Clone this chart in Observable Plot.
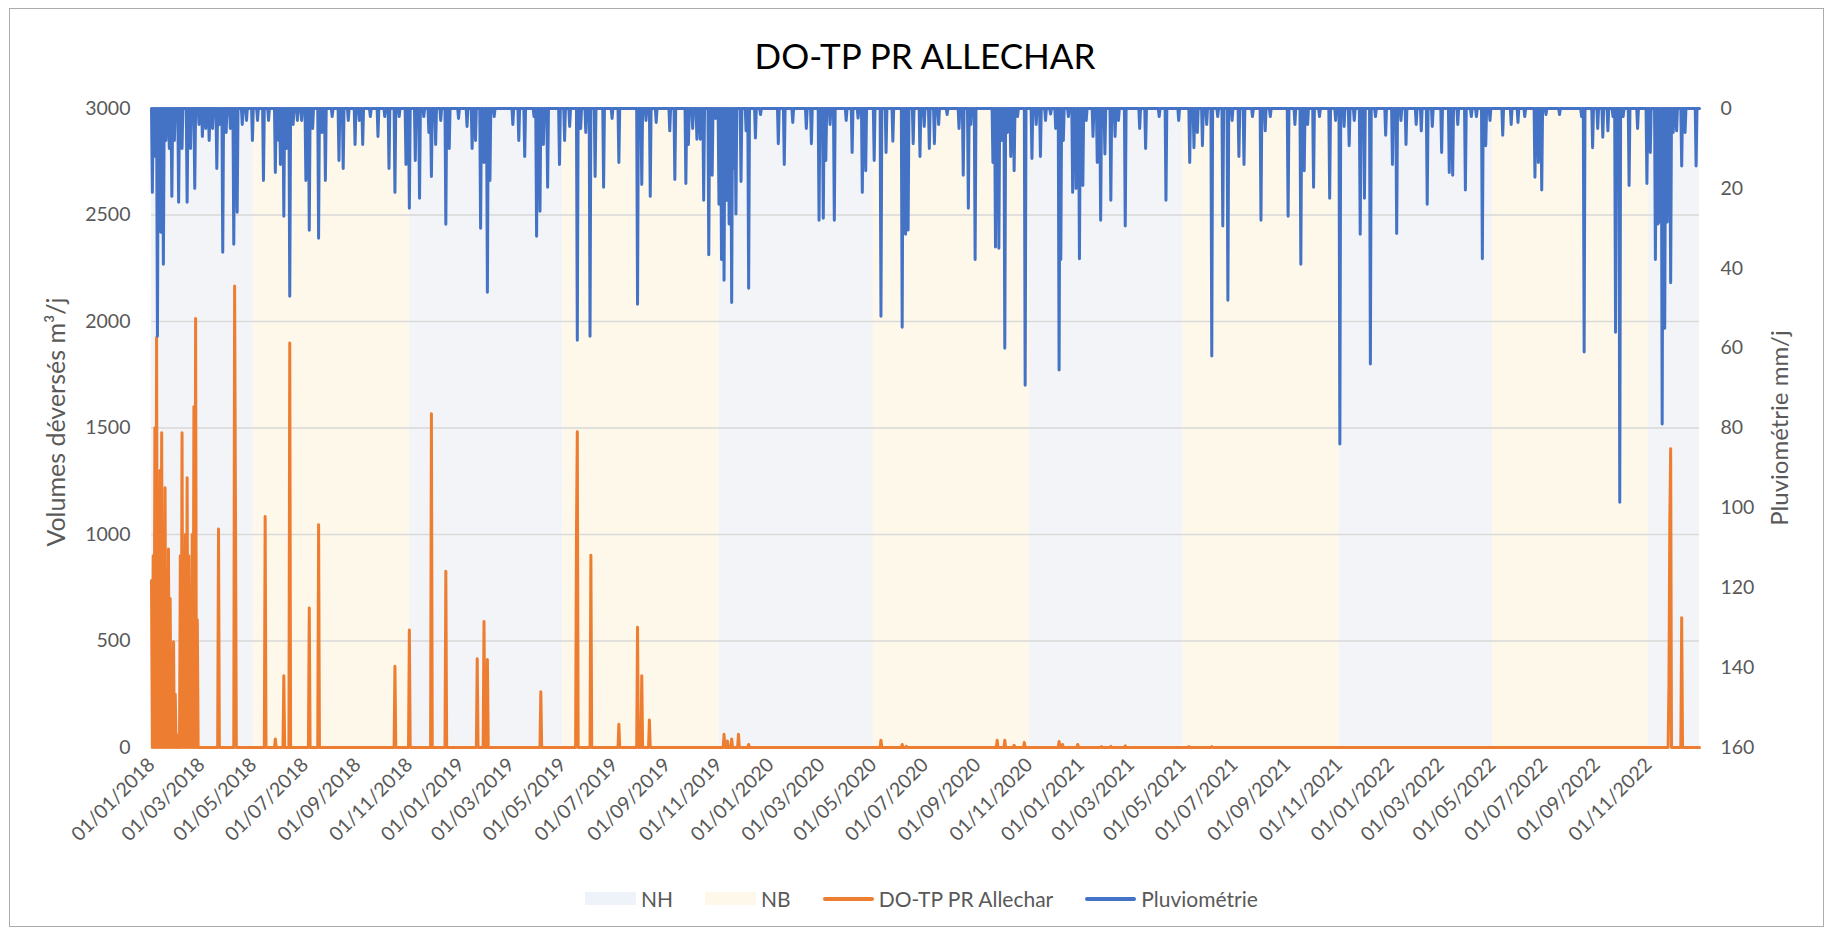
<!DOCTYPE html>
<html>
<head>
<meta charset="utf-8">
<script src="https://cdn.jsdelivr.net/npm/d3@7"></script>
<script src="https://cdn.jsdelivr.net/npm/@observablehq/plot@0.6"></script>
<style>
  html, body { margin: 0; padding: 0; background: #fff; }
  #chart { position: relative; width: 1827px; height: 930px; overflow: hidden; font-family: Lato, "Open Sans", sans-serif; }
  #frame { position: absolute; left: 9px; top: 8px; width: 1815px; height: 919px; border: 1.5px solid #ABABAB; box-sizing: border-box; }
  #title { position: absolute; left: 151px; width: 1548px; top: 38px; text-align: center; font-size: 35px; line-height: 35px; color: #000; white-space: nowrap; }
  #plot { position: absolute; left: 0; top: 0; }
  .ytitle { position: absolute; font-size: 24px; line-height: 24px; color: #595959; white-space: nowrap; transform: translate(-50%, -50%) rotate(-90deg); }
  #legend { position: absolute; left: 585px; top: 886px; height: 25px; display: flex; align-items: center; font-size: 21px; color: #595959; white-space: nowrap; }
  .item { display: flex; align-items: center; margin-right: 32px; }
  .sw { width: 51px; height: 13px; margin-right: 5px; }
  .ln { width: 51px; height: 4px; border-radius: 2px; margin-right: 5px; }
</style>
</head>
<body>
<div id="chart">
  <div id="frame"></div>
  <div id="plot"></div>
  <div id="title">DO-TP PR ALLECHAR</div>
  <div class="ytitle" id="yl" style="left:55px; top:422px; font-size:25px;">Volumes déversés m³/j</div>
  <div class="ytitle" id="yr" style="left:1779px; top:428px;">Pluviométrie mm/j</div>
  <div id="legend"></div>
</div>
<script>
// ---------- DATA ----------
const xTickLabels = ["01/01/2018","01/03/2018","01/05/2018","01/07/2018","01/09/2018","01/11/2018",
  "01/01/2019","01/03/2019","01/05/2019","01/07/2019","01/09/2019","01/11/2019",
  "01/01/2020","01/03/2020","01/05/2020","01/07/2020","01/09/2020","01/11/2020",
  "01/01/2021","01/03/2021","01/05/2021","01/07/2021","01/09/2021","01/11/2021",
  "01/01/2022","01/03/2022","01/05/2022","01/07/2022","01/09/2022","01/11/2022"];
const leftTicks = [0, 500, 1000, 1500, 2000, 2500, 3000];
const rightTicks = [0, 20, 40, 60, 80, 100, 120, 140, 160];

// Seasons (NH = nappe haute, NB = nappe basse)
const bandStart = ["2018-01-01","2018-05-01","2018-11-01","2019-05-01","2019-11-01","2020-05-01","2020-11-01","2021-05-01","2021-11-01","2022-05-01","2022-11-01"];
const bandEnd   = ["2018-05-01","2018-11-01","2019-05-01","2019-11-01","2020-05-01","2020-11-01","2021-05-01","2021-11-01","2022-05-01","2022-11-01","2022-12-31"];
const bandType  = ["NH","NB","NH","NB","NH","NB","NH","NB","NH","NB","NH"];

// Daily rainfall (mm/j) - days not listed are 0
const rainDates = [
"2018-01-02","2018-01-04","2018-01-06","2018-01-08","2018-01-10","2018-01-12","2018-01-15","2018-01-18","2018-01-22","2018-01-25","2018-01-28",
"2018-02-02","2018-02-06","2018-02-12","2018-02-16","2018-02-21","2018-02-26","2018-03-02","2018-03-06","2018-03-10","2018-03-14","2018-03-19",
"2018-03-22","2018-03-26","2018-03-30","2018-04-04","2018-04-08","2018-04-12","2018-04-18","2018-04-23","2018-04-30","2018-05-06","2018-05-13",
"2018-05-19","2018-05-27","2018-05-31","2018-06-02","2018-06-06","2018-06-09","2018-06-13","2018-06-17","2018-06-22","2018-06-27","2018-07-02",
"2018-07-06","2018-07-10","2018-07-17","2018-07-21","2018-07-25","2018-08-02","2018-08-10","2018-08-15","2018-08-21","2018-08-29","2018-09-03",
"2018-09-07","2018-09-16","2018-09-25","2018-10-03","2018-10-08","2018-10-15","2018-10-20","2018-10-28","2018-11-01","2018-11-08","2018-11-13",
"2018-11-18","2018-11-24","2018-11-27","2018-12-02","2018-12-08","2018-12-14","2018-12-18","2018-12-29",
"2019-01-08","2019-01-14","2019-01-18","2019-01-24","2019-01-28","2019-02-01","2019-02-04","2019-02-09","2019-03-03","2019-03-10","2019-03-17",
"2019-03-28","2019-03-31","2019-04-04","2019-04-08","2019-04-13","2019-04-27","2019-05-03","2019-05-09","2019-05-18","2019-05-22","2019-05-28",
"2019-06-02","2019-06-08","2019-06-18","2019-06-28","2019-07-06","2019-07-28","2019-08-02","2019-08-07","2019-08-12","2019-08-19","2019-09-04",
"2019-09-10","2019-09-23","2019-09-26","2019-10-01","2019-10-06","2019-10-10","2019-10-14","2019-10-20","2019-10-24","2019-10-28","2019-11-01",
"2019-11-04","2019-11-07","2019-11-10","2019-11-13","2019-11-16","2019-11-18","2019-11-21","2019-11-27","2019-12-03","2019-12-06","2019-12-14",
"2019-12-20",
"2020-01-10","2020-01-17","2020-01-27","2020-02-12","2020-02-18","2020-02-27","2020-03-03","2020-03-06","2020-03-11","2020-03-16","2020-03-30",
"2020-04-06","2020-04-13","2020-04-18","2020-04-22","2020-05-02","2020-05-10","2020-05-16","2020-05-24","2020-06-04","2020-06-08","2020-06-11",
"2020-06-17","2020-06-25","2020-06-30","2020-07-06","2020-07-12","2020-07-17","2020-07-27","2020-08-10","2020-08-15","2020-08-21","2020-08-24",
"2020-08-29","2020-09-19","2020-09-22","2020-09-26","2020-09-29","2020-10-03","2020-10-06","2020-10-10","2020-10-14","2020-10-18","2020-10-27",
"2020-11-04","2020-11-09","2020-11-14","2020-11-20","2020-11-26","2020-12-02","2020-12-06","2020-12-08","2020-12-11","2020-12-17","2020-12-22",
"2020-12-26","2020-12-30",
"2021-01-03","2021-01-07","2021-01-15","2021-01-20","2021-01-24","2021-01-29","2021-02-05","2021-02-10","2021-02-14","2021-02-22","2021-03-11",
"2021-03-18","2021-04-03","2021-04-11","2021-04-26","2021-05-09","2021-05-14","2021-05-18","2021-05-24","2021-05-29","2021-06-04","2021-06-11",
"2021-06-17","2021-06-23","2021-06-28","2021-07-06","2021-07-12","2021-07-22","2021-08-01","2021-08-06","2021-08-12","2021-09-02","2021-09-10",
"2021-09-17","2021-09-21","2021-09-25","2021-10-02","2021-10-09","2021-10-21","2021-10-28","2021-11-02","2021-11-07","2021-11-13","2021-11-19",
"2021-11-26","2021-12-01","2021-12-08","2021-12-14","2021-12-26",
"2022-01-03","2022-01-08","2022-01-13","2022-01-19","2022-01-31","2022-02-06","2022-02-13","2022-02-19","2022-03-02","2022-03-11","2022-03-15",
"2022-03-21","2022-03-30","2022-04-06","2022-04-12","2022-04-19","2022-04-23","2022-04-28","2022-05-13","2022-05-23","2022-05-31","2022-06-08",
"2022-06-20","2022-06-24","2022-06-28","2022-07-03","2022-07-19","2022-08-14","2022-08-17","2022-08-27","2022-09-02","2022-09-08","2022-09-14",
"2022-09-20","2022-09-23","2022-09-28","2022-10-02","2022-10-09","2022-10-19","2022-10-30","2022-11-03","2022-11-09","2022-11-12","2022-11-15",
"2022-11-17","2022-11-20","2022-11-23","2022-11-27","2022-11-30","2022-12-04","2022-12-10","2022-12-14","2022-12-27"];
const rainMm = [
21,12,8,57,20,31,39,8,10,22,8,
23.5,10,23.5,10,20,4,7,5,8,5,15,
4,36,6,5,34,26,4,3,8,3,18,
3,16,8,14,27,10,47,4,3,3,18,
30.5,5,32.5,6,18,2,13,15,3,9,3,
9,2,7,2,15,21,2,14,25,13,22.5,
2,6,17,9,3,29,10,2.5,
4.5,10,8,30,13.5,46,18,2,4,8,12,
2,32,25.7,9,19.7,14,8,4.5,58,5,6,
57,17,19.7,2.5,13.5,49,19,3,22,3.5,5.6,
17.8,18.8,9,5,7.7,7.7,23,36.6,16.7,2.5,24,
37.8,43,23,28.9,48.6,15,26.4,18.3,5.6,45,7.4,
1.5,
8.8,14,3.5,5,8.8,28,27.5,13,4,28,3,
11,2.4,21,15.6,13,52,11,8.2,54.8,31.5,30.4,
8.8,12,4.5,10,8.8,4,1.5,5,16.7,25,4,
37.8,13.5,34.7,35,8,60,6,12,15.6,2,69.3,
12.5,4,12,3,1.4,5,65.5,37.8,8,2,21,
20,37.6,
19.3,3,7,13.5,28,11.4,23,7,3,29.4,5,
10,2,23,3,13.5,9.8,6,9.3,4,62,2,
29.4,48,3,12,14,2,28,5.6,2,27,4,
39,15.6,4,19.7,2,22.5,3,84,4.5,9.3,3,
31.5,22.5,64,2,6.7,
14,31.3,3,9,4,5.6,24,4.5,11,16,16.7,
4,20.4,2,2,37.6,9.3,3,6.7,4,3.5,2,
17.2,13.5,20.4,1.5,1.5,2,61,9.8,5,7.2,5.6,
2,56,98.6,2,19.3,5,18.8,11,37.8,28.9,28.4,
79,55,28.4,43.6,6,5.6,14.4,6,14.4];

// Daily overflow volume DO-TP PR Allechar (m3/j) - days not listed are 0
const volDates = [
"2018-01-01","2018-01-03","2018-01-05","2018-01-07","2018-01-09","2018-01-11","2018-01-13","2018-01-15","2018-01-17","2018-01-19",
"2018-01-21","2018-01-23","2018-01-25","2018-01-27","2018-01-29","2018-01-31",
"2018-02-04","2018-02-06","2018-02-08","2018-02-10","2018-02-12","2018-02-14","2018-02-16","2018-02-18","2018-02-20","2018-02-22","2018-02-24",
"2018-03-21","2018-04-09","2018-04-10","2018-05-15","2018-05-27","2018-06-06","2018-06-13","2018-07-06","2018-07-17","2018-10-15",
"2018-11-01","2018-11-27","2018-12-14",
"2019-01-20","2019-01-28","2019-02-01","2019-04-05","2019-05-17","2019-05-18","2019-06-03","2019-07-06","2019-07-28","2019-08-02","2019-08-11",
"2019-11-07","2019-11-11","2019-11-16","2019-11-24","2019-12-06",
"2020-05-10","2020-06-04","2020-06-09","2020-09-24","2020-10-03","2020-10-14","2020-10-26","2020-12-06","2020-12-10","2020-12-28",
"2021-01-25","2021-02-05","2021-02-22","2021-05-08","2021-06-04",
"2022-11-25","2022-11-26","2022-11-27","2022-12-10"];
const volM3 = [
784,900,1500,1925,1200,1300,1478,1000,1220,800,
932,700,450,496,250,60,
900,1478,900,1000,1266,900,500,1000,1600,2014,600,
1026,2167,1131,1085,40,337,1899,655,1046,381,
552,1567,827,
417,591,413,262,1000,1482,903,109,565,337,129,
62,30,40,62,14,
34,14,6,34,34,10,24,28,14,14,
4,6,8,4,4,
300,1061,1403,609];

// ---------- BUILD ----------
const parseISO = d3.utcParse("%Y-%m-%d");
const parseFR = d3.utcParse("%d/%m/%Y");
const fmtISO = d3.utcFormat("%Y-%m-%d");
const fmtFR = d3.utcFormat("%d/%m/%Y");
const first = parseISO("2018-01-01"), last = parseISO("2022-12-31");
const allDays = d3.utcDay.range(first, d3.utcDay.offset(last, 1));
const rainMap = new Map(rainDates.map((d, i) => [d, rainMm[i]]));
const volMap = new Map(volDates.map((d, i) => [d, volM3[i]]));
const rainSeries = allDays.map(d => ({date: d, mm: rainMap.get(fmtISO(d)) ?? 0}));
const volSeries = allDays.map(d => ({date: d, v: volMap.get(fmtISO(d)) ?? 0}));
const bands = bandStart.map((s, i) => ({x1: parseISO(s), x2: parseISO(bandEnd[i]), type: bandType[i]}));
const xTicks = xTickLabels.map(parseFR);

const VMAX = 3000, RMAX = 160;
const rainToY = mm => VMAX * (1 - mm / RMAX);
const yToRain = y => Math.round(RMAX * (1 - y / VMAX));

const COL_NH = "#F2F4F7", COL_NB = "#FEF8EB", COL_VOL = "#ED7D31", COL_RAIN = "#4472C4";

const chart = Plot.plot({
  width: 1827,
  height: 880,
  marginTop: 108,
  marginBottom: 133,
  marginLeft: 151,
  marginRight: 128,
  style: {fontFamily: "Lato, 'Open Sans', sans-serif", fontSize: "19.5px", color: "#595959", background: "transparent", overflow: "visible"},
  x: {type: "utc", domain: [first, last]},
  y: {domain: [0, VMAX]},
  marks: [
    Plot.rect(bands.filter(b => b.type === "NH"), {x1: "x1", x2: "x2", y1: 0, y2: VMAX, fill: COL_NH}),
    Plot.rect(bands.filter(b => b.type === "NB"), {x1: "x1", x2: "x2", y1: 0, y2: VMAX, fill: COL_NB}),
    Plot.gridY(leftTicks, {stroke: "#D9D9D9", strokeOpacity: 1, strokeWidth: 1.3}),
    Plot.line(volSeries, {x: "date", y: "v", stroke: COL_VOL, strokeWidth: 3, strokeLinejoin: "round", strokeLinecap: "round"}),
    Plot.line(rainSeries, {x: "date", y: d => rainToY(d.mm), stroke: COL_RAIN, strokeWidth: 3, strokeLinejoin: "round", strokeLinecap: "round"}),
    Plot.axisY(leftTicks, {anchor: "left", tickSize: 0, tickPadding: 21, label: null, tickFormat: d => String(d)}),
    Plot.axisY(rightTicks.map(rainToY), {anchor: "right", tickSize: 0, tickPadding: 21, label: null, tickFormat: yToRain}),
    Plot.axisX(xTicks, {anchor: "bottom", tickSize: 0, tickPadding: 14, tickRotate: -45, label: null, tickFormat: fmtFR})
  ]
});
document.getElementById("plot").appendChild(chart);

// Legend
const legend = document.getElementById("legend");
const items = [
  {label: "NH", kind: "sw", color: "#EEF2F9"},
  {label: "NB", kind: "sw", color: "#FEF8EB"},
  {label: "DO-TP PR Allechar", kind: "ln", color: COL_VOL},
  {label: "Pluviométrie", kind: "ln", color: COL_RAIN}
];
for (const it of items) {
  const el = document.createElement("div");
  el.className = "item";
  const s = document.createElement("div");
  s.className = it.kind;
  s.style.background = it.color;
  const t = document.createElement("span");
  t.textContent = it.label;
  el.appendChild(s); el.appendChild(t);
  legend.appendChild(el);
}
</script>
</body>
</html>
